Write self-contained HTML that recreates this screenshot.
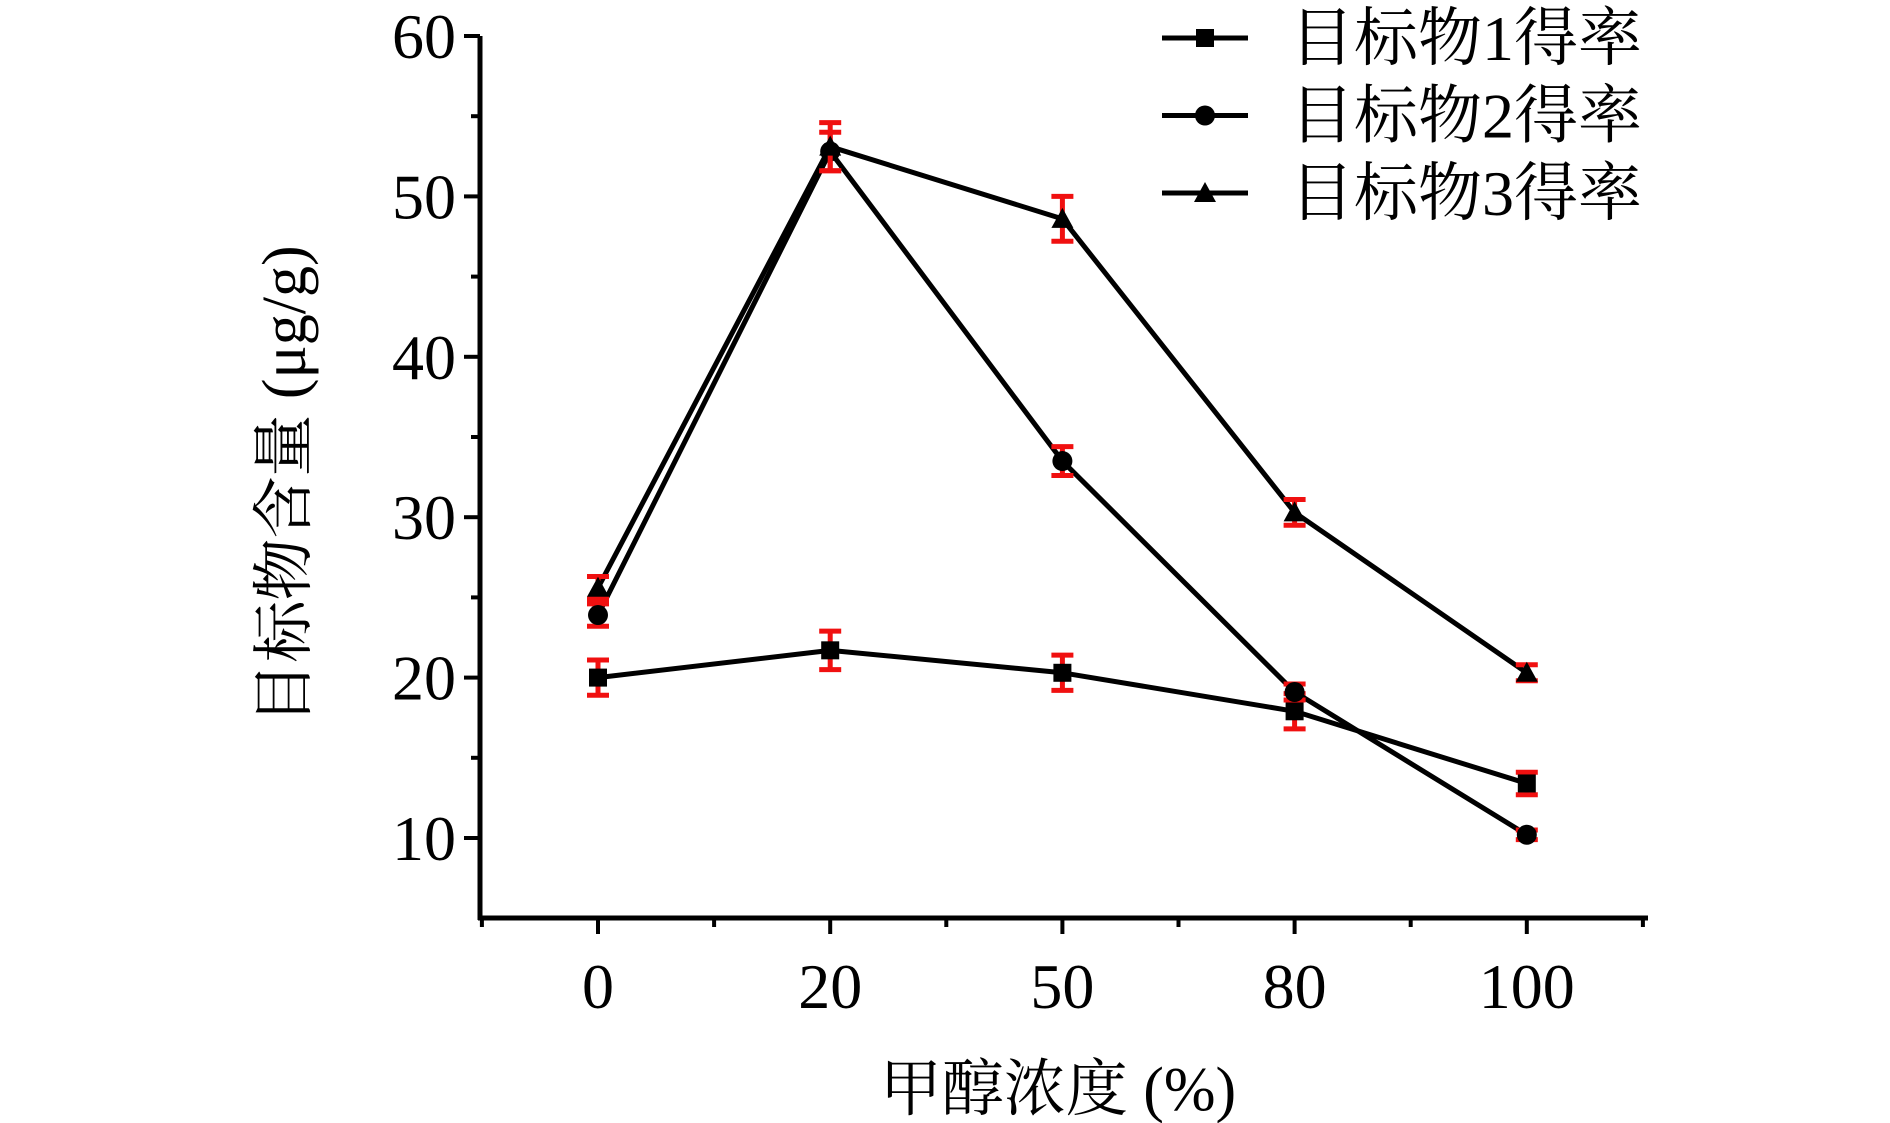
<!DOCTYPE html>
<html><head><meta charset="utf-8"><style>
html,body{margin:0;padding:0;background:#fff;}
svg{display:block;}
text{font-family:"Liberation Serif","Noto Serif CJK SC",serif;fill:#000;}
</style></head><body>
<svg id="chart" width="1890" height="1123" viewBox="0 0 1890 1123" xmlns="http://www.w3.org/2000/svg">
<g id="axes"></g>
<g id="series"></g>
<g id="legend"></g>
<text x="1058" y="1110" font-size="62" text-anchor="middle">甲醇浓度 (%)</text>
<text transform="translate(305,485) rotate(-90)" font-size="62" text-anchor="middle">目标物含量 (μg/g)</text>
</svg>
<script>
const categories = ["0","20","50","80","100"];
const yTicks = [10,20,30,40,50,60];
const s1 = [20.0,21.7,20.3,17.9,13.4];
const s1Err = [1.1,1.2,1.1,1.1,0.7];
const s2 = [23.9,52.8,33.5,19.1,10.2];
const s2Err = [0.7,1.2,0.9,0.5,0.3];
const s3 = [25.6,53.1,48.6,30.3,20.3];
const s3Err = [0.7,1.5,1.4,0.8,0.5];
const seriesNames = ["目标物1得率","目标物2得率","目标物3得率"];

const NS="http://www.w3.org/2000/svg";
const X0=480,X1=1646,Ytop=36,Ybot=918;
function yScale(v){return 838-(v-10)*16.04;}
function xScale(i){return 598+i*232.2;}
function mk(tag,attrs,parent){const e=document.createElementNS(NS,tag);for(const k in attrs)e.setAttribute(k,attrs[k]);parent.appendChild(e);return e;}
const axes=document.getElementById('axes');
let e=mk('line',{x1:X0,y1:Ytop,x2:X0,y2:Ybot+2,stroke:'#000','stroke-width':5},axes);


e=mk('line',{x1:X0-2,y1:Ybot,x2:X1+2,y2:Ybot,stroke:'#000','stroke-width':5},axes);


for(let v=5;v<=60;v+=5){const major=v%10===0;if(v===5)continue;
 e=mk('line',{x1:X0-(major?16:9),y1:yScale(v),x2:X0,y2:yScale(v),stroke:'#000','stroke-width':4},axes);
 
 }
yTicks.forEach(v=>{e=mk('text',{x:X0-24,y:yScale(v)+22,'font-size':64,'text-anchor':'end'},axes);e.textContent=v;
 
 });
for(let k=-0.5;k<=4.5;k+=0.5){const major=Number.isInteger(k);
 e=mk('line',{x1:xScale(k),y1:Ybot,x2:xScale(k),y2:Ybot+(major?16:9),stroke:'#000','stroke-width':4},axes);
 
 }
categories.forEach((c,i)=>{e=mk('text',{x:xScale(i),y:1008,'font-size':64,'text-anchor':'middle'},axes);e.textContent=c;
 
 });
function marker(type,x,y,parent){
 if(type===0)return mk('rect',{x:x-9,y:y-9,width:18,height:18,fill:'#000'},parent);
 if(type===1)return mk('circle',{cx:x,cy:y,r:10,fill:'#000'},parent);
 return mk('polygon',{points:`${x},${y-11} ${x+11},${y+9} ${x-11},${y+9}`,fill:'#000'},parent);
}
const ser=document.getElementById('series');
[[s1,s1Err],[s2,s2Err],[s3,s3Err]].forEach(([vals,errs],si)=>{
 const g=mk('g',{},ser);
 
 
 const pts=vals.map((v,i)=>xScale(i)+','+yScale(v)).join(' ');
 e=mk('polyline',{points:pts,fill:'none',stroke:'#000','stroke-width':5,'stroke-linejoin':'round'},g);
 
 
 vals.forEach((v,i)=>{const x=xScale(i),yt=yScale(v+errs[i]),yb=yScale(v-errs[i]);
  const eg=mk('g',{stroke:'#f01010','stroke-width':5},g);
  
  
  mk('line',{x1:x,y1:yt,x2:x,y2:yb},eg);
  mk('line',{x1:x-11,y1:yt,x2:x+11,y2:yt},eg);
  mk('line',{x1:x-11,y1:yb,x2:x+11,y2:yb},eg);
  e=marker(si,x,yScale(v),g);
  
  });
});
const leg=document.getElementById('legend');
seriesNames.forEach((n,i)=>{const y=38+i*77.5;
 const g=mk('g',{},leg);
 
 
 mk('line',{x1:1162,y1:y,x2:1248,y2:y,stroke:'#000','stroke-width':5},g);
 marker(i,1205,y,g);
 e=mk('text',{x:1290,y:y+22,'font-size':64},g);e.textContent=n;
 
 
});
</script>
</body></html>
